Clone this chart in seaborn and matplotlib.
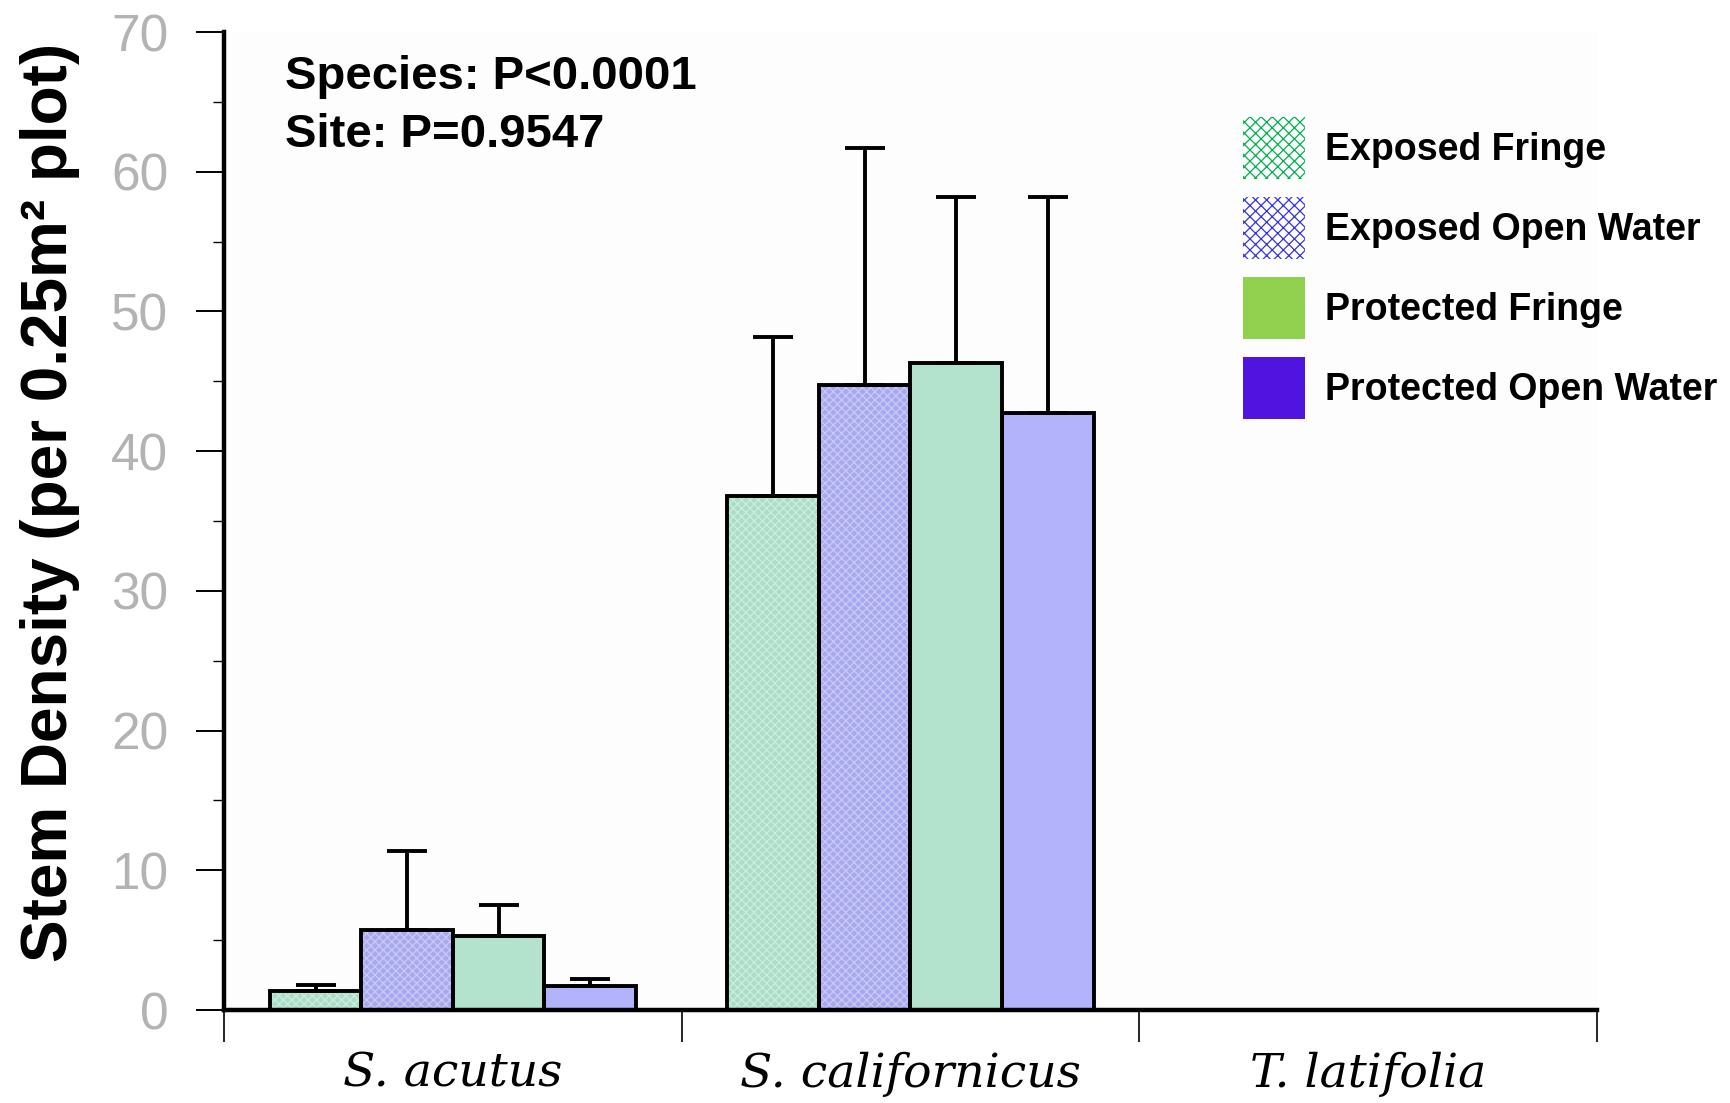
import numpy as np
import pandas as pd
import matplotlib
matplotlib.use("Agg")
import matplotlib.pyplot as plt
from matplotlib.patches import Patch
from matplotlib.ticker import FixedLocator, MultipleLocator
import seaborn as sns

# ---------------- data ----------------
species = ["S. acutus", "S. californicus", "T. latifolia"]
sites = ["Exposed Fringe", "Exposed Open Water", "Protected Fringe", "Protected Open Water"]

exposed_fringe = [1.35, 36.8, 0.0]
exposed_open_water = [5.7, 44.7, 0.0]
protected_fringe = [5.3, 46.3, 0.0]
protected_open_water = [1.75, 42.7, 0.0]

exposed_fringe_err = [0.45, 11.35, 0.0]
exposed_open_water_err = [5.7, 17.0, 0.0]
protected_fringe_err = [2.25, 11.9, 0.0]
protected_open_water_err = [0.5, 15.5, 0.0]

y_ticks = [0, 10, 20, 30, 40, 50, 60, 70]
annotations = ["Species: P<0.0001", "Site: P=0.9547"]
y_label = "Stem Density (per 0.25m² plot)"

values = {
    "Exposed Fringe": exposed_fringe,
    "Exposed Open Water": exposed_open_water,
    "Protected Fringe": protected_fringe,
    "Protected Open Water": protected_open_water,
}
errors = {
    "Exposed Fringe": exposed_fringe_err,
    "Exposed Open Water": exposed_open_water_err,
    "Protected Fringe": protected_fringe_err,
    "Protected Open Water": protected_open_water_err,
}
rows = []
for s in sites:
    for sp, v in zip(species, values[s]):
        rows.append({"species": sp, "site": s, "value": v})
df = pd.DataFrame(rows)

# ---------------- style ----------------
bar_colors = {
    "Exposed Fringe": "#abdec6",
    "Exposed Open Water": "#a8a8ef",
    "Protected Fringe": "#b3e3cc",
    "Protected Open Water": "#b3b3fb",
}
hatch_colors = {
    "Exposed Fringe": "#cdeedf",
    "Exposed Open Water": "#cacaf7",
}
legend_handles = [
    Patch(facecolor="white", edgecolor="#00b050", hatch="xxx", linewidth=0),
    Patch(facecolor="white", edgecolor="#3535e0", hatch="xxx", linewidth=0),
    Patch(facecolor="#92d050", linewidth=0),
    Patch(facecolor="#5014e0", linewidth=0),
]

plt.rcParams["font.family"] = ["Liberation Sans", "DejaVu Sans"]
plt.rcParams["hatch.linewidth"] = 0.9

W, H = 1731, 1103
fig = plt.figure(figsize=(W / 100, H / 100), dpi=100)
ax = fig.add_axes([224 / W, 1 - 1010 / H, (1597 - 224) / W, (1010 - 32) / H])
ax.set_facecolor("#fdfdfd")

# fill layer
sns.barplot(data=df, x="species", y="value", hue="site", hue_order=sites,
            order=species, palette=bar_colors, errorbar=None, width=0.8,
            saturation=1, linewidth=0, legend=False, ax=ax)
for s, cont in zip(sites, ax.containers):
    for p in cont:
        if s in hatch_colors:
            p.set_hatch("xxxx")
            p.set_edgecolor(hatch_colors[s])
            p.set_linewidth(0)
n_before = len(ax.containers)

# outline layer
sns.barplot(data=df, x="species", y="value", hue="site", hue_order=sites,
            order=species, palette=bar_colors, errorbar=None, width=0.8,
            saturation=1, fill=False, linewidth=2.8, legend=False, ax=ax)
outline_containers = ax.containers[n_before:]
for cont in outline_containers:
    for p in cont:
        p.set_edgecolor("black")
        p.set_linewidth(2.8)
        p.set_zorder(3)

# error bars (upper only)
for s, cont in zip(sites, outline_containers):
    xs, ys, es = [], [], []
    for p, v, e in zip(cont, values[s], errors[s]):
        if e > 0:
            xs.append(p.get_x() + p.get_width() / 2)
            ys.append(v)
            es.append(e)
    ax.errorbar(xs, ys, yerr=[np.zeros(len(es)), es], fmt="none", ecolor="black",
                elinewidth=2.8, capsize=14.5, capthick=2.8, zorder=2)

# axes
ax.set_xlim(-0.5, 2.5)
ax.set_ylim(0, 70)
ax.set_xlabel("")
ax.set_ylabel("")
for sp in ["top", "right"]:
    ax.spines[sp].set_visible(False)
ax.spines["left"].set_linewidth(3.2)
ax.spines["bottom"].set_linewidth(3.2)

ax.yaxis.set_major_locator(FixedLocator(y_ticks))
ax.yaxis.set_minor_locator(MultipleLocator(5))
ax.set_yticklabels([str(t) for t in y_ticks])
ax.tick_params(axis="y", which="major", length=20, width=1.4, direction="out",
               pad=20, labelsize=37, labelcolor="#b3b3b3")
ax.tick_params(axis="y", which="minor", length=8, width=1.0, direction="out")

ax.xaxis.set_major_locator(FixedLocator([-0.5, 0.5, 1.5, 2.5]))
ax.set_xticklabels(["", "", "", ""])
ax.xaxis.set_minor_locator(FixedLocator([0, 1, 2]))
ax.set_xticklabels(species, minor=True)
ax.tick_params(axis="x", which="major", length=23, width=1.2, direction="out")
ax.tick_params(axis="x", which="minor", length=0, pad=30)
for lab in ax.get_xticklabels(minor=True):
    lab.set_fontfamily("DejaVu Serif")
    lab.set_fontstyle("italic")
    lab.set_fontsize(34)

# y label
fig.text(50 / W, 1 - 502 / H, y_label, rotation=90, ha="center", va="center",
         fontsize=46, fontweight="bold", color="black")

# annotation text
fig.text(285 / W, 1 - 77 / H, annotations[0], ha="left", va="center",
         fontsize=34, fontweight="bold")
fig.text(285 / W, 1 - 135 / H, annotations[1], ha="left", va="center",
         fontsize=34, fontweight="bold")

# legend
fig.legend(legend_handles, sites, loc="upper left",
           bbox_to_anchor=(1243 / W, 1 - 117 / H), frameon=False,
           prop={"weight": "bold", "size": 27},
           handlelength=1.65, handleheight=2.17, labelspacing=0.48,
           handletextpad=0.53, borderpad=0, borderaxespad=0)

fig.savefig("out.png", dpi=100)
